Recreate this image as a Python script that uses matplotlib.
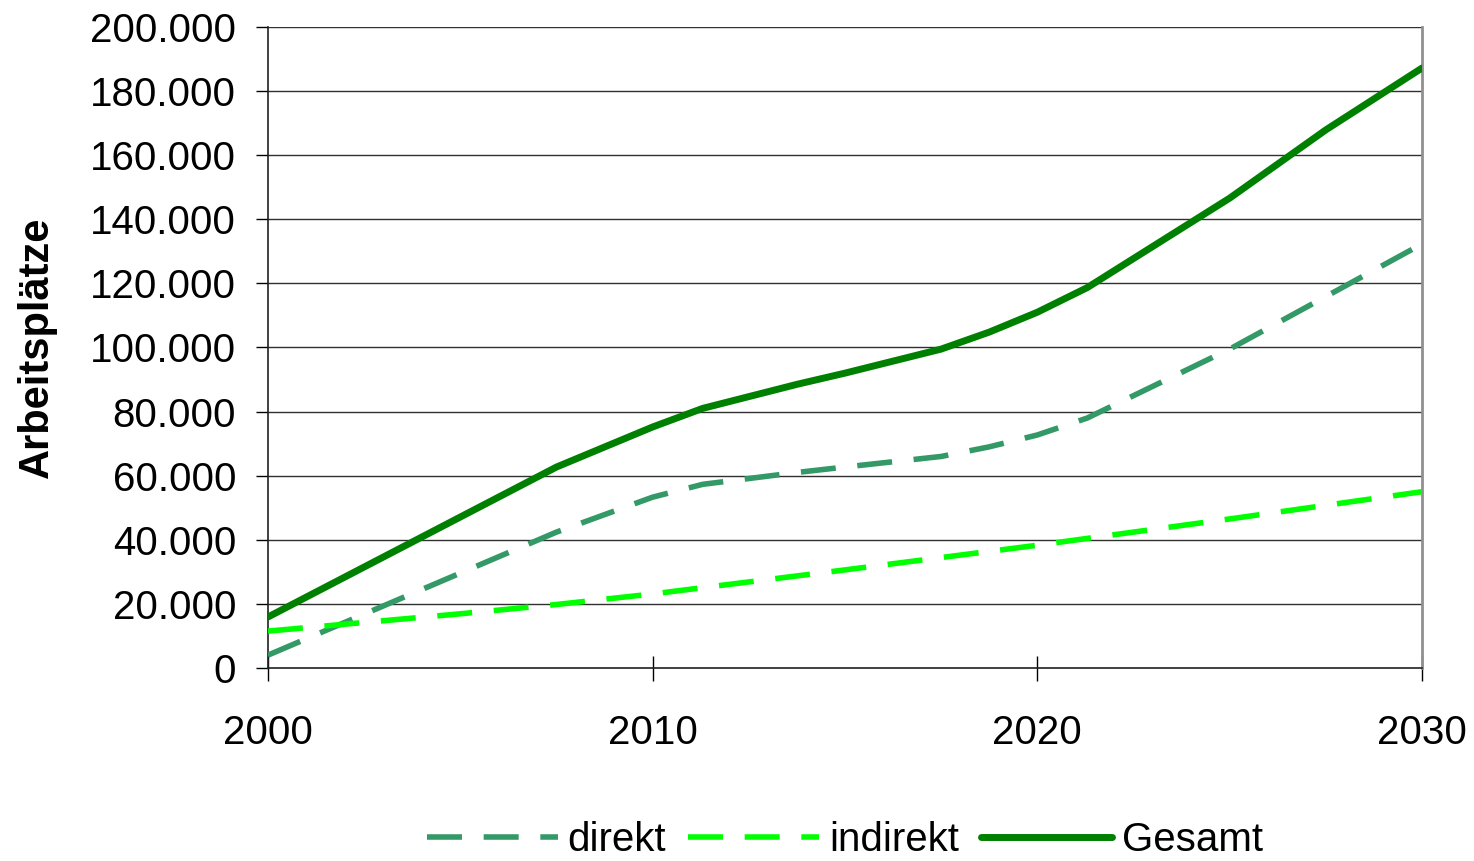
import matplotlib.pyplot as plt
from matplotlib.ticker import FuncFormatter

plt.rcParams['font.family'] = ['Liberation Sans', 'DejaVu Sans']

# jobs per year
years_gesamt = [2000, 2007.5, 2010, 2011.3, 2013.75, 2015, 2017.5, 2018.75, 2020, 2021.3, 2025, 2027.5, 2030]
gesamt = [15900, 62700, 75200, 81000, 88500, 92000, 99500, 104800, 111000, 118700, 146600, 167900, 187200]

years_direkt = [2000, 2007.5, 2010, 2011.3, 2013.75, 2015, 2017.5, 2018.75, 2020, 2021.3, 2025, 2027.5, 2030]
direkt = [4000, 42400, 53300, 57300, 61000, 62700, 66000, 69000, 72700, 78000, 99500, 115900, 132300]

years_indirekt = [2000, 2005, 2007.5, 2010, 2015, 2020, 2025, 2030]
indirekt = [11500, 16900, 19800, 23100, 30600, 38300, 46500, 55000]

y_ticks = list(range(0, 200001, 20000))
x_ticks = [2000, 2010, 2020, 2030]

fig = plt.figure(figsize=(14.74, 8.61), dpi=100)
ax = fig.add_axes([0.1818, 0.2242, 0.7829, 0.7444])

for y in y_ticks[1:]:
    ax.axhline(y, color='#303030', lw=1.0, zorder=1)

ax.plot(years_direkt, direkt, color='#339966', lw=4.0, dashes=(6.3, 3.9),
        label='direkt', zorder=3)
ax.plot(years_indirekt, indirekt, color='#00FF00', lw=4.0, dashes=(6.3, 3.9),
        label='indirekt', zorder=3)
ax.plot(years_gesamt, gesamt, color='#008000', lw=5.0, solid_capstyle='round',
        solid_joinstyle='round', label='Gesamt', zorder=4)

ax.set_xlim(2000, 2030)
ax.set_ylim(0, 200000)
ax.set_xticks(x_ticks)
ax.set_yticks(y_ticks)
ax.yaxis.set_major_formatter(FuncFormatter(lambda v, p: f'{int(v):,}'.replace(',', '.')))

ax.spines['top'].set_visible(False)
ax.spines['right'].set_color('#909090')
ax.spines['right'].set_linewidth(2)
ax.spines['left'].set_color('#202020')
ax.spines['bottom'].set_color('#202020')
ax.spines['left'].set_linewidth(1.2)
ax.spines['bottom'].set_linewidth(1.2)

ax.tick_params(axis='y', direction='out', length=9, width=1, pad=14, labelsize=29)
ax.tick_params(axis='x', direction='inout', length=18, width=1, pad=24, labelsize=29)

ax.set_ylabel('Arbeitsplätze', fontsize=30, fontweight='bold')
ax.yaxis.set_label_coords(-0.183, 0.5)

ax.legend(loc='center', bbox_to_anchor=(0.5, -0.268), ncol=3, frameon=False, fontsize=29,
          handlelength=3.25, handletextpad=0.25, columnspacing=0.55, borderpad=0.2)

fig.savefig('out.png', dpi=100)
